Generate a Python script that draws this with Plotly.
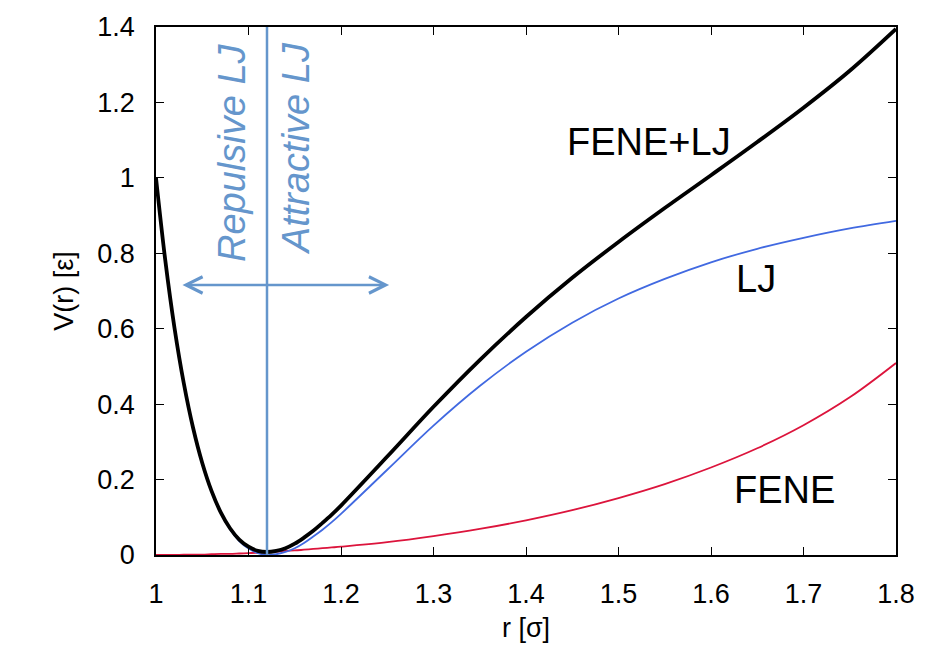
import plotly.graph_objects as go

# Bond distance r [sigma]
r = [1.00, 1.01, 1.02, 1.03, 1.04, 1.05, 1.06, 1.07, 1.08, 1.09, 1.10,
     1.11, 1.12, 1.13, 1.14, 1.15, 1.16, 1.17, 1.18, 1.19, 1.20,
     1.25, 1.30, 1.35, 1.40, 1.45, 1.50, 1.55, 1.60, 1.65, 1.70, 1.75, 1.80]

# Shifted Lennard-Jones potential [epsilon]
v_lj = [1.000, 0.782, 0.602, 0.456, 0.337, 0.243, 0.168, 0.111, 0.068, 0.037, 0.017,
        0.005, 0.000, 0.002, 0.008, 0.018, 0.032, 0.049, 0.067, 0.087, 0.109,
        0.226, 0.343, 0.448, 0.539, 0.616, 0.680, 0.732, 0.776, 0.812, 0.841, 0.866, 0.886]

# FENE bond potential [epsilon]
v_fene = [0.000, 0.000, 0.000, 0.001, 0.001, 0.001, 0.002, 0.003, 0.003, 0.004, 0.005,
          0.006, 0.008, 0.009, 0.011, 0.012, 0.014, 0.016, 0.018, 0.020, 0.022,
          0.034, 0.050, 0.069, 0.092, 0.119, 0.151, 0.188, 0.232, 0.283, 0.344, 0.418, 0.509]

# Total bonded potential FENE + LJ [epsilon]
v_total = [1.000, 0.782, 0.602, 0.456, 0.338, 0.244, 0.170, 0.113, 0.071, 0.041, 0.022,
           0.011, 0.008, 0.011, 0.018, 0.030, 0.046, 0.064, 0.085, 0.107, 0.131,
           0.261, 0.393, 0.517, 0.631, 0.735, 0.830, 0.920, 1.007, 1.095, 1.186, 1.284, 1.395]

# Position of the LJ minimum separating the repulsive and attractive branches
r_min = 1.12

x_ticks = [1.0, 1.1, 1.2, 1.3, 1.4, 1.5, 1.6, 1.7, 1.8]
x_tick_labels = ["1", "1.1", "1.2", "1.3", "1.4", "1.5", "1.6", "1.7", "1.8"]
y_ticks = [0.0, 0.2, 0.4, 0.6, 0.8, 1.0, 1.2, 1.4]
y_tick_labels = ["0", "0.2", "0.4", "0.6", "0.8", "1", "1.2", "1.4"]

FONT = "Liberation Sans, Arial, Helvetica, sans-serif"
GUIDE = "#6596cc"

fig = go.Figure()

fig.add_trace(go.Scatter(x=r, y=v_fene, mode="lines", line=dict(color="#dc143c", width=1.8, shape="spline"),
                         showlegend=False, hoverinfo="skip"))
fig.add_trace(go.Scatter(x=r, y=v_lj, mode="lines", line=dict(color="#4169e1", width=1.8, shape="spline"),
                         showlegend=False, hoverinfo="skip"))
fig.add_trace(go.Scatter(x=r, y=v_total, mode="lines", line=dict(color="#000000", width=3.8, shape="spline"),
                         showlegend=False, hoverinfo="skip"))
fig.add_trace(go.Scatter(x=[r_min, r_min], y=[0, 1.4], mode="lines", line=dict(color=GUIDE, width=2.5),
                         showlegend=False, hoverinfo="skip"))

# double-headed arrow across the minimum
fig.add_annotation(x=1.252, y=0.716, ax=1.027, ay=0.716, xref="x", yref="y", axref="x", ayref="y",
                   text="", showarrow=True, arrowhead=5, startarrowhead=5, arrowside="end+start",
                   arrowsize=1.3, startarrowsize=1.3, arrowwidth=2.5, arrowcolor=GUIDE)

# region labels
fig.add_annotation(x=1.0819, y=1.068, xref="x", yref="y", text="<i>Repulsive LJ</i>", textangle=-90,
                   showarrow=False, font=dict(family=FONT, size=38, color=GUIDE))
fig.add_annotation(x=1.1508, y=1.08, xref="x", yref="y", text="<i>Attractive LJ</i>", textangle=-90,
                   showarrow=False, font=dict(family=FONT, size=38, color=GUIDE))

# curve labels
for txt, xx, yy in [("FENE+LJ", 1.533, 1.095), ("LJ", 1.649, 0.731), ("FENE", 1.679, 0.172)]:
    fig.add_annotation(x=xx, y=yy, xref="x", yref="y", text=txt, showarrow=False,
                       font=dict(family=FONT, size=38, color="black"))

axis_common = dict(showgrid=False, zeroline=False, showline=True, linecolor="black", linewidth=1.5,
                   mirror="ticks", ticks="inside", ticklen=8, tickwidth=1.2, tickcolor="black",
                   tickfont=dict(family=FONT, size=27, color="black"))

fig.update_xaxes(range=[1.0, 1.8], tickvals=x_ticks, ticktext=x_tick_labels, ticklabelstandoff=14,
                 title=dict(text="r [σ]", font=dict(family=FONT, size=27, color="black"), standoff=10),
                 **axis_common)
fig.update_yaxes(range=[0.0, 1.4], tickvals=y_ticks, ticktext=y_tick_labels, ticklabelstandoff=14,
                 title=dict(text="V(r) [ε]", font=dict(family=FONT, size=27, color="black"), standoff=16),
                 **axis_common)

fig.update_layout(width=927, height=650, margin=dict(l=156, r=29, t=26, b=95),
                  plot_bgcolor="white", paper_bgcolor="white", font=dict(family=FONT))

fig.write_html("out.html")
